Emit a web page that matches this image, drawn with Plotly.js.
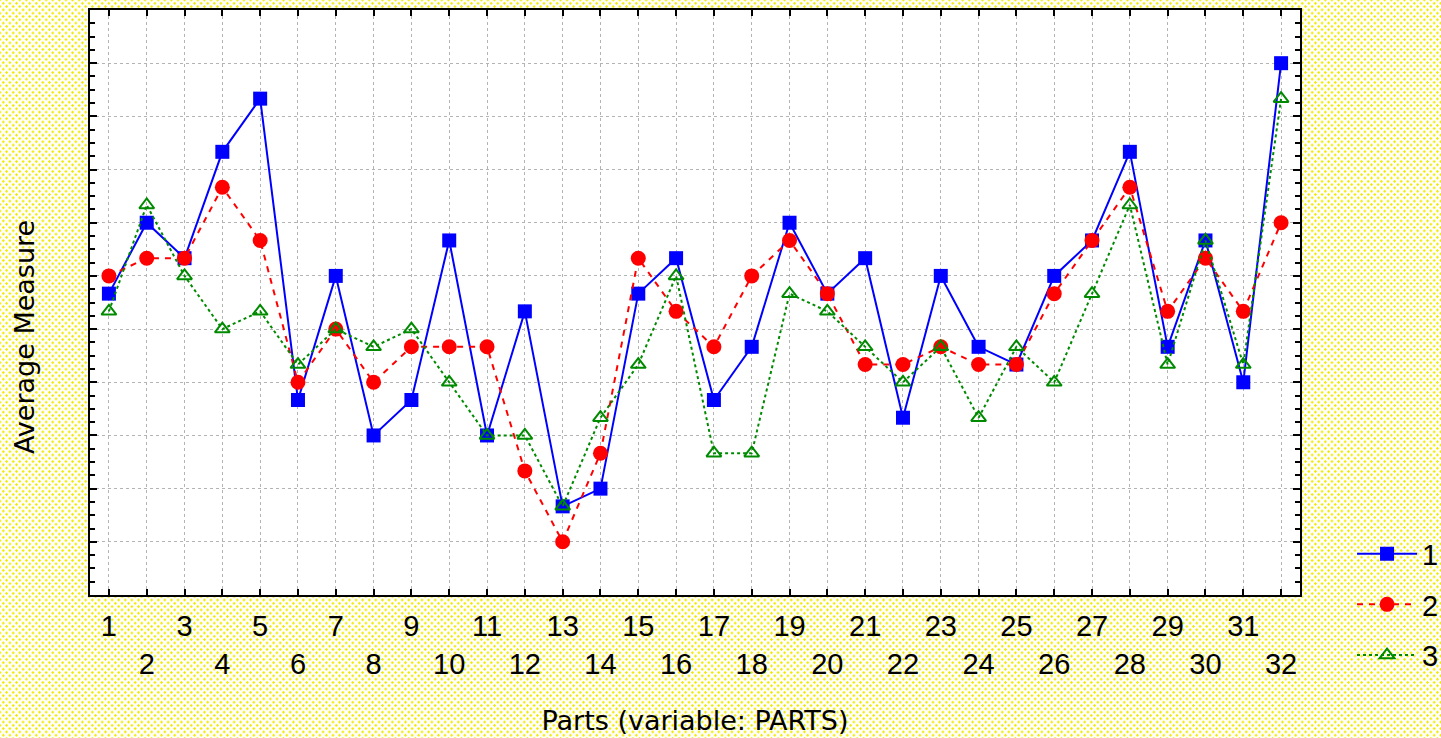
<!DOCTYPE html>
<html>
<head>
<meta charset="utf-8">
<script src="https://cdn.plot.ly/plotly-3.0.1.min.js"></script>
<style>
html, body { margin: 0; padding: 0; }
body {
  width: 1441px; height: 738px; overflow: hidden;
  background-color: #ffffff;
  background-image:
    radial-gradient(circle, #f2ea00 1px, rgba(255,255,255,0) 1.4px),
    radial-gradient(circle, #f2ea00 1px, rgba(255,255,255,0) 1.4px);
  background-size: 6.6px 6.6px, 6.6px 6.6px;
  background-position: 0 0, 3.3px 3.3px;
}
#chart { width: 1441px; height: 738px; }
</style>
</head>
<body>
<div id="chart"></div>
<script>
// Parts 1..32
var parts = [1,2,3,4,5,6,7,8,9,10,11,12,13,14,15,16,17,18,19,20,21,22,23,24,25,26,27,28,29,30,31,32];
var partLabels = ["1","<br>2","3","<br>4","5","<br>6","7","<br>8","9","<br>10","11","<br>12","13","<br>14","15","<br>16",
                  "17","<br>18","19","<br>20","21","<br>22","23","<br>24","25","<br>26","27","<br>28","29","<br>30","31","<br>32"];
// Average measure (arbitrary units)
var series1 = [17,21,19,25,28,11,18,9,11,20,9,16,5,6,17,19,11,14,21,17,19,10,18,14,13,18,20,25,14,20,12,30];
var series2 = [18,19,19,23,20,12,15,12,14,14,14,7,3,8,19,16,14,18,20,17,13,13,14,13,13,17,20,23,16,19,16,21];
var series3 = [16,22,18,15,16,13,15,14,15,12,9,9,5,10,13,18,8,8,17,16,14,12,14,10,14,12,17,22,13,20,13,28];
var seriesNames = ["1","2","3"];
var xTitle = "Parts (variable: PARTS)";
var yTitle = "Average Measure";

var FONT = "Liberation Sans, Arial, sans-serif";
var TFONT = "DejaVu Sans, Verdana, sans-serif";

var traces = [
  {x: parts, y: series1, name: seriesNames[0], legendgroup: "g1", type: "scatter", mode: "lines+markers",
   line: {color: "#0000ff", width: 2, dash: "solid"},
   marker: {symbol: "square", size: 14, color: "#0000ff", line: {width: 0}}},
  {x: parts, y: series2, name: seriesNames[1], legendgroup: "g2", type: "scatter", mode: "lines+markers",
   line: {color: "#ff0000", width: 2, dash: "6px,6px"},
   marker: {symbol: "circle", size: 15, color: "#ff0000", line: {width: 0}}},
  {x: parts, y: series3, name: seriesNames[2], legendgroup: "g3", type: "scatter", mode: "lines+markers",
   line: {color: "#008a00", width: 2, dash: "dot"},
   marker: {symbol: "triangle-up-open", size: 13, color: "#008a00", line: {width: 2, color: "#008a00"}}}
];

var layout = {
  width: 1441, height: 738,
  margin: {l: 90, r: 141, t: 10, b: 143, autoexpand: false},
  paper_bgcolor: "rgba(0,0,0,0)",
  plot_bgcolor: "#ffffff",
  font: {family: FONT, size: 29, color: "#000000"},
  showlegend: true,
  legend: {
    x: 1.043, xanchor: "left", y: 0.114, yanchor: "top",
    bgcolor: "rgba(0,0,0,0)", borderwidth: 0,
    font: {family: FONT, size: 29, color: "#000"},
    tracegroupgap: 10, itemwidth: 60
  },
  xaxis: {
    range: [0.5, 32.5],
    tickmode: "array", tickvals: parts, ticktext: partLabels,
    ticks: "inside", ticklen: 6, tickwidth: 2, tickcolor: "#000",
    showline: true, linecolor: "#000", linewidth: 2, mirror: "ticks",
    showgrid: true, gridcolor: "#b4b4b4", gridwidth: 1, griddash: "dot",
    zeroline: false,
    tickfont: {family: FONT, size: 29, color: "#000"},
    ticklabelstandoff: 4,
    title: {text: xTitle, font: {family: TFONT, size: 27, color: "#000"}, standoff: 33}
  },
  yaxis: {
    range: [0, 33],
    tickmode: "linear", tick0: 0, dtick: 3,
    showticklabels: false,
    ticks: "inside", ticklen: 7, tickwidth: 2, tickcolor: "#000",
    minor: {tickmode: "linear", dtick: 0.75, ticks: "inside", ticklen: 5, tickwidth: 2, tickcolor: "#000", showgrid: false},
    showline: true, linecolor: "#000", linewidth: 2, mirror: "ticks",
    showgrid: true, gridcolor: "#b4b4b4", gridwidth: 1, griddash: "dot",
    zeroline: false
  },
  annotations: [
    {text: yTitle, xref: "paper", yref: "paper", x: -0.0545, y: 0.441, xanchor: "center", yanchor: "middle",
     textangle: -90, showarrow: false, font: {family: TFONT, size: 27, color: "#000"}}
  ]
};

Plotly.newPlot("chart", traces, layout, {displayModeBar: false, staticPlot: true});
</script>
</body>
</html>
